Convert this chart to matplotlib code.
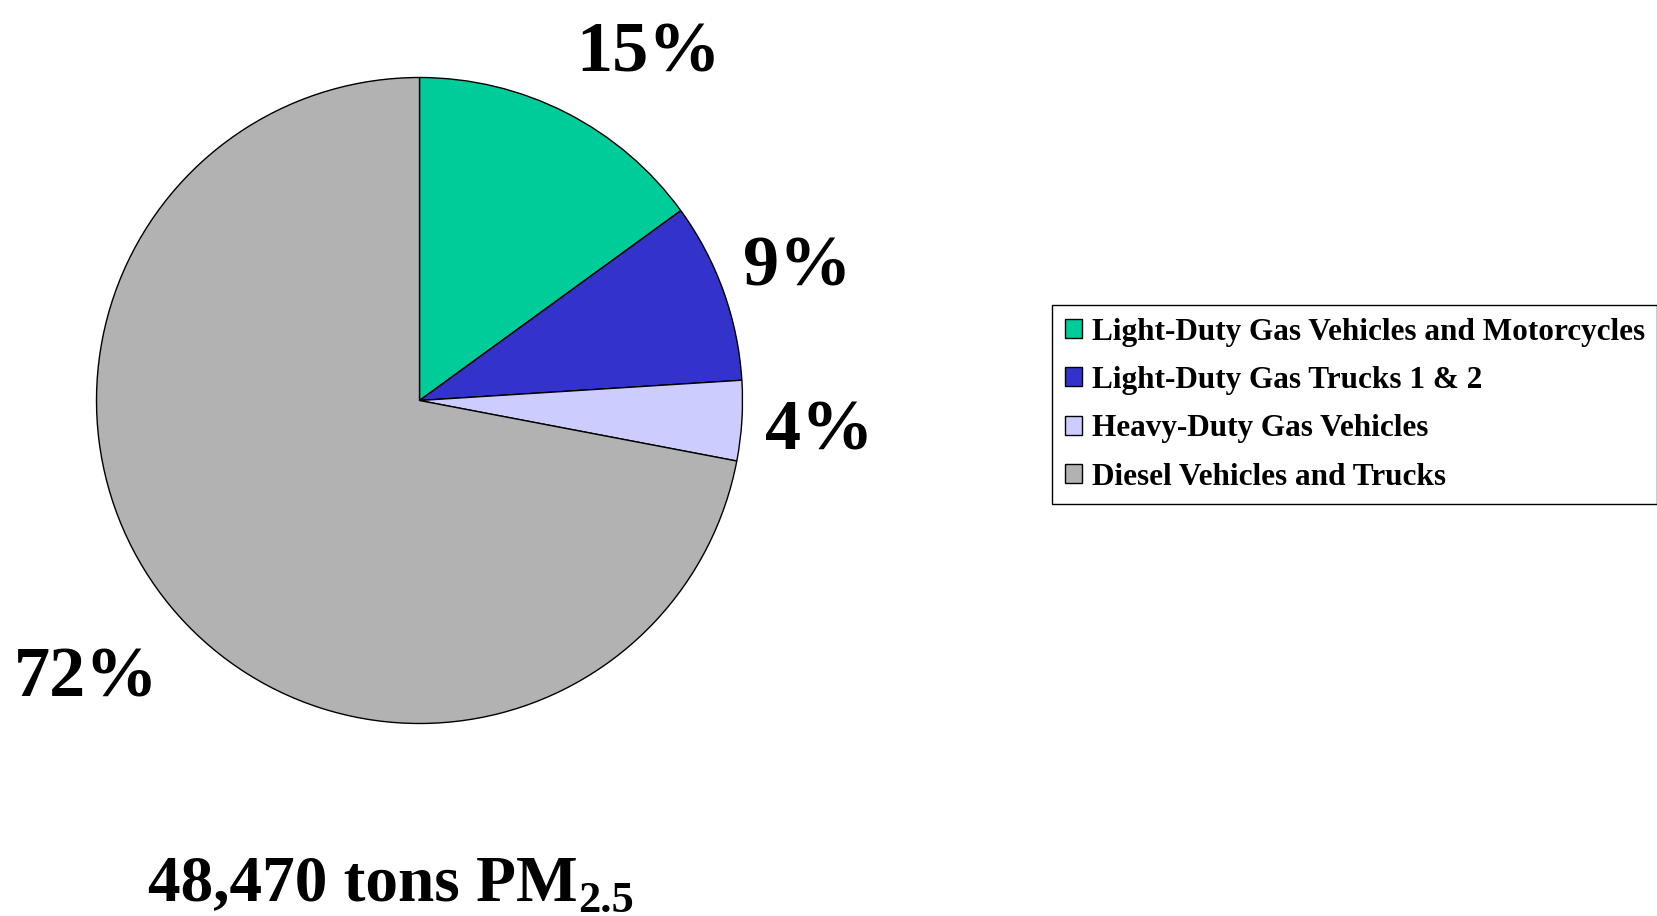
import matplotlib
matplotlib.use("Agg")
import matplotlib.pyplot as plt
import numpy as np

categories = ["Light-Duty Gas Vehicles and Motorcycles",
              "Light-Duty Gas Trucks 1 & 2",
              "Heavy-Duty Gas Vehicles",
              "Diesel Vehicles and Trucks"]
values = [15, 9, 4, 72]
pct_labels = ["15%", "9%", "4%", "72%"]
colors = ["#00CC99", "#3333CC", "#CCCCFF", "#B2B2B2"]
total_label = "48,470 tons PM"
subscript = "2.5"

plt.rcParams['font.family'] = ['Liberation Serif', 'DejaVu Serif']
plt.rcParams['font.weight'] = 'bold'

W, H = 1657, 916
fig = plt.figure(figsize=(W / 100, H / 100), dpi=100)

cx, cy, r = 419.5, 400.5, 323
ax = fig.add_axes([(cx - r) / W, (H - cy - r) / H, 2 * r / W, 2 * r / H])
wedges, _ = ax.pie(values, colors=colors, startangle=90, counterclock=False,
                   radius=1, wedgeprops=dict(edgecolor="black", linewidth=1.0))
ax.set_xlim(-1, 1)
ax.set_ylim(-1, 1)
ax.set_aspect("equal")
ax.axis("off")

# percentage labels (pixel positions of label centres)
label_pos = [(648, 54), (797, 268), (819, 432), (86, 679)]
for (px, py), t in zip(label_pos, pct_labels):
    fig.text(px / W, 1 - py / H, t, fontsize=52, fontweight="bold",
             ha="center", va="center")

# bottom total text
t1 = fig.text(148 / W, 1 - 900 / H, total_label, fontsize=47, fontweight="bold",
              ha="left", va="baseline")
fig.canvas.draw()
bb = t1.get_window_extent()
fig.text((bb.x1 + 1) / W, 1 - 912 / H, subscript, fontsize=32, fontweight="bold",
         ha="left", va="baseline")

leg = fig.legend(wedges, categories, loc="upper left",
                 bbox_to_anchor=(1052 / W, 1 - 305 / H), borderaxespad=0,
                 frameon=True, fancybox=False, framealpha=1,
                 edgecolor="black", handlelength=0.55, handleheight=0.55,
                 handletextpad=0.32, labelspacing=0.62, borderpad=0.4,
                 prop=dict(family="Liberation Serif", weight="bold", size=22.5))
leg.get_frame().set_linewidth(1.0)

fig.savefig("out.png", dpi=100)
